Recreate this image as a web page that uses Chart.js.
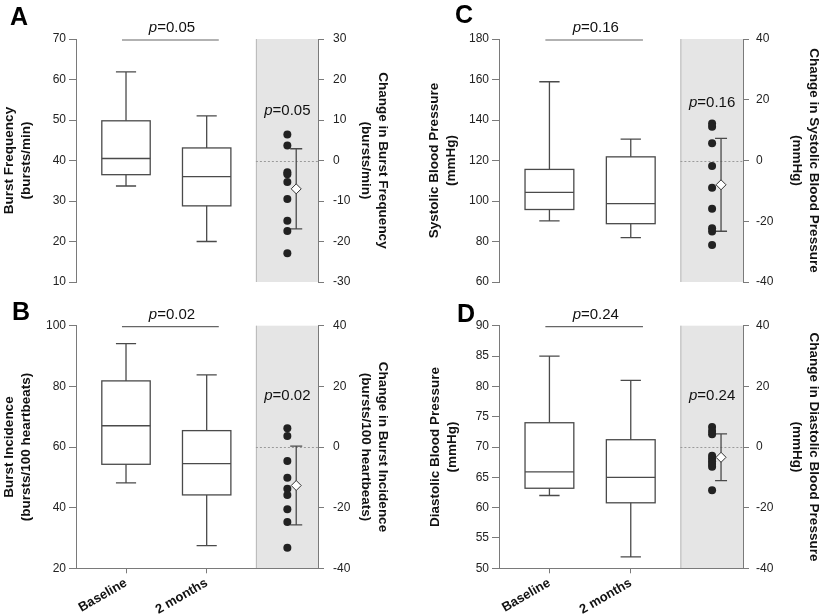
<!DOCTYPE html>
<html lang="en">
<head>
<meta charset="UTF-8">
<title>Baseline vs 2 months</title>
<script src="https://cdn.jsdelivr.net/npm/chart.js"></script>
<style>
  body { margin: 0; background: #fff; }
  #wrap { position: relative; width: 825px; height: 615px; }
  canvas { position: absolute; }
</style>
</head>
<body>
<div id="wrap">
  <canvas id="panelA" width="410" height="300" style="left:0;top:0"></canvas>
  <canvas id="panelB" width="410" height="315" style="left:0;top:300px"></canvas>
  <canvas id="panelC" width="415" height="300" style="left:410px;top:0"></canvas>
  <canvas id="panelD" width="415" height="315" style="left:410px;top:300px"></canvas>
</div>
<script>
const groups = ['Baseline', '2 months'];

// box stats per group: [min, q1, median, q3, max]
const freqBox = [[33.7, 36.5, 40.5, 49.8, 61.9], [20.0, 28.8, 36.0, 43.1, 51.0]];
const freqChange = [6.4, 3.7, -2.9, -3.4, -5.3, -9.5, -14.9, -17.4, -22.9];
const freqMeanSd = [-7.0, 9.9];

const incidBox = [[48.2, 54.3, 67.0, 81.8, 94.1], [27.5, 44.2, 54.5, 65.4, 83.8]];
const incidChange = [6.2, 3.6, -4.6, -10.1, -13.8, -15.8, -20.5, -24.7, -33.2];
const incidMeanSd = [-12.7, 13.0];

const sbpBox = [[90.2, 95.8, 104.3, 115.6, 158.9], [81.9, 88.8, 98.7, 121.8, 130.6]];
const sbpChange = [12.2, 11.1, 5.7, -1.8, -9.0, -15.9, -22.3, -23.4, -27.8];
const sbpMeanSd = [-8.0, 15.3];

const dbpBox = [[62.0, 63.2, 65.9, 74.0, 85.0], [51.9, 60.8, 65.0, 71.2, 81.0]];
const dbpChange = [6.6, 5.3, 4.2, -2.9, -3.8, -4.7, -5.6, -6.5, -14.3];
const dbpMeanSd = [-3.4, 7.7];

const pValues = ['0.05', '0.02', '0.16', '0.24'];

// where things sit on the hidden 0..3 x scale
const X_GROUP = [0.62, 1.62];
const X_DOTS = 2.62, X_MEAN = 2.73, SHADE_FROM = 2.23;
const BOX_HALF = 0.3, CAP_HALF = 0.125;

const FONT = '"Liberation Sans", Arial, sans-serif';

function drawP(ctx, text, cx, baseY) {
    ctx.font = 'italic 15px ' + FONT;
    const w1 = ctx.measureText('p').width;
    ctx.font = '15px ' + FONT;
    const rest = '=' + text;
    const w2 = ctx.measureText(rest).width;
    const x0 = cx - (w1 + w2) / 2;
    ctx.fillStyle = '#111';
    ctx.textAlign = 'left';
    ctx.textBaseline = 'alphabetic';
    ctx.font = 'italic 15px ' + FONT;
    ctx.fillText('p', x0, baseY);
    ctx.font = '15px ' + FONT;
    ctx.fillText(rest, x0 + w1, baseY);
}

const panelPlugin = {
    id: 'panel',
    beforeDraw(chart, args, o) {
        const { ctx, chartArea: a, scales: { x, y1 } } = chart;
        const sx = x.getPixelForValue(SHADE_FROM);
        ctx.save();
        ctx.fillStyle = '#e5e5e5';
        ctx.fillRect(sx, a.top, a.right - sx, a.bottom - a.top);
        ctx.strokeStyle = '#b8b8b8';
        ctx.lineWidth = 1;
        ctx.beginPath();
        ctx.moveTo(sx + 0.5, a.top);
        ctx.lineTo(sx + 0.5, a.bottom);
        ctx.stroke();
        // dotted zero line of the change axis
        const y0 = Math.round(y1.getPixelForValue(0)) + 0.5;
        ctx.strokeStyle = '#9a9a9a';
        ctx.setLineDash([2, 2]);
        ctx.beginPath();
        ctx.moveTo(sx, y0);
        ctx.lineTo(a.right, y0);
        ctx.stroke();
        ctx.restore();
    },
    beforeDatasetsDraw(chart, args, o) {
        const { ctx, scales: { x, y, y1 } } = chart;
        ctx.save();
        ctx.strokeStyle = '#4a4a4a';
        ctx.lineWidth = 1.3;
        o.box.forEach((b, i) => {
            const [mn, q1, md, q3, mx] = b.map(v => y.getPixelForValue(v));
            const cx = x.getPixelForValue(X_GROUP[i]);
            const hw = x.getPixelForValue(X_GROUP[i] + BOX_HALF) - cx;
            const cw = x.getPixelForValue(X_GROUP[i] + CAP_HALF) - cx;
            ctx.fillStyle = '#fff';
            ctx.fillRect(cx - hw, q3, 2 * hw, q1 - q3);
            ctx.strokeRect(cx - hw, q3, 2 * hw, q1 - q3);
            ctx.beginPath();
            ctx.moveTo(cx - hw, md); ctx.lineTo(cx + hw, md);
            ctx.moveTo(cx, q3); ctx.lineTo(cx, mx);
            ctx.moveTo(cx - cw, mx); ctx.lineTo(cx + cw, mx);
            ctx.moveTo(cx, q1); ctx.lineTo(cx, mn);
            ctx.moveTo(cx - cw, mn); ctx.lineTo(cx + cw, mn);
            ctx.stroke();
        });
        // mean +/- SD of the change
        const [m, sd] = o.meanSd;
        const mx = x.getPixelForValue(X_MEAN);
        const hi = y1.getPixelForValue(m + sd), lo = y1.getPixelForValue(m - sd);
        ctx.beginPath();
        ctx.moveTo(mx, hi); ctx.lineTo(mx, lo);
        ctx.moveTo(mx - 6, hi); ctx.lineTo(mx + 6, hi);
        ctx.moveTo(mx - 6, lo); ctx.lineTo(mx + 6, lo);
        ctx.stroke();
        ctx.restore();
    },
    afterDraw(chart, args, o) {
        const { ctx, chartArea: a, scales: { x, y1 } } = chart;
        ctx.save();
        // bracket and p value between the two groups
        ctx.strokeStyle = '#666';
        ctx.lineWidth = 1.2;
        ctx.beginPath();
        ctx.moveTo(x.getPixelForValue(0.57), a.top + 1);
        ctx.lineTo(x.getPixelForValue(1.77), a.top + 1);
        ctx.stroke();
        drawP(ctx, o.p, x.getPixelForValue(1.19), a.top - 7);
        drawP(ctx, o.p, x.getPixelForValue(X_DOTS), y1.getPixelForValue(o.pAt) + 5);
        // panel letter
        ctx.fillStyle = '#000';
        ctx.font = 'bold 25px ' + FONT;
        ctx.textAlign = 'left';
        ctx.textBaseline = 'alphabetic';
        ctx.fillText(o.letter, o.letterPos[0], o.letterPos[1]);
        ctx.restore();
    }
};

function makePanel(id, p) {
    const axisGray = '#7a7a7a';
    const titleFont = { family: FONT, size: 13.5, weight: 'bold', lineHeight: '17px' };
    return new Chart(document.getElementById(id), {
        type: 'scatter',
        data: {
            datasets: [
                {
                    data: p.change.map(v => ({ x: X_DOTS, y: v })),
                    yAxisID: 'y1',
                    pointRadius: 4,
                    pointBackgroundColor: '#222',
                    pointBorderColor: '#222',
                    pointBorderWidth: 0
                },
                {
                    data: [{ x: X_MEAN, y: p.meanSd[0] }],
                    yAxisID: 'y1',
                    pointStyle: 'rectRot',
                    pointRadius: 5,
                    pointBackgroundColor: '#fff',
                    pointBorderColor: '#333',
                    pointBorderWidth: 1
                }
            ]
        },
        options: {
            responsive: false,
            animation: false,
            devicePixelRatio: 1,
            layout: { padding: { top: p.padTop, bottom: p.padBottom, left: 0, right: 0 } },
            plugins: {
                legend: { display: false },
                tooltip: { enabled: false },
                panel: { box: p.box, meanSd: p.meanSd, p: p.p, pAt: p.pAt, letter: p.letter, letterPos: p.letterPos }
            },
            scales: {
                x: {
                    type: 'linear',
                    min: 0,
                    max: 3,
                    display: p.showX,
                    afterBuildTicks: s => { s.ticks = X_GROUP.map(v => ({ value: v })); },
                    afterFit: s => { s.height = p.showX ? 46.7 : 0; },
                    ticks: {
                        autoSkip: false,
                        minRotation: 30,
                        maxRotation: 30,
                        padding: 2,
                        color: '#111',
                        font: { family: FONT, size: 13, weight: 'bold' },
                        callback: (v, i) => groups[i]
                    },
                    grid: { drawOnChartArea: false, tickLength: 5, color: axisGray },
                    border: { color: axisGray, width: 1 }
                },
                y: {
                    position: 'left',
                    min: p.yMin,
                    max: p.yMax,
                    afterFit: s => { s.width = p.leftW; },
                    ticks: { stepSize: p.yStep, padding: 3, color: '#222', font: { family: FONT, size: 12 } },
                    grid: { drawOnChartArea: false, tickLength: 7, color: axisGray },
                    border: { color: axisGray, width: 1 },
                    title: {
                        display: true,
                        text: p.leftTitle,
                        color: '#111',
                        padding: { top: p.leftTitlePad, bottom: 0 },
                        font: titleFont
                    }
                },
                y1: {
                    position: 'right',
                    min: p.cMin,
                    max: p.cMax,
                    afterFit: s => { s.width = p.rightW; },
                    ticks: { stepSize: p.cStep, padding: p.rightTickPad, color: '#222', font: { family: FONT, size: 12 } },
                    grid: { drawOnChartArea: false, tickLength: 6, color: axisGray },
                    border: { color: axisGray, width: 1 },
                    title: {
                        display: true,
                        text: p.rightTitle,
                        color: '#111',
                        padding: { top: p.rightTitlePad, bottom: 0 },
                        font: titleFont
                    }
                }
            }
        },
        plugins: [panelPlugin]
    });
}

makePanel('panelA', {
    box: freqBox, change: freqChange, meanSd: freqMeanSd, p: pValues[0], pAt: 12.5,
    letter: 'A', letterPos: [10, 25],
    yMin: 10, yMax: 70, yStep: 10, cMin: -30, cMax: 30, cStep: 10,
    leftTitle: ['Burst Frequency', '(bursts/min)'],
    rightTitle: ['Change in Burst Frequency', '(bursts/min)'],
    showX: false, padTop: 39, padBottom: 18,
    leftW: 76, rightW: 92, leftTitlePad: 0.5, rightTitlePad: 18.5, rightTickPad: 9
});

makePanel('panelB', {
    box: incidBox, change: incidChange, meanSd: incidMeanSd, p: pValues[1], pAt: 17,
    letter: 'B', letterPos: [12, 20],
    yMin: 20, yMax: 100, yStep: 20, cMin: -40, cMax: 40, cStep: 20,
    leftTitle: ['Burst Incidence', '(bursts/100 heartbeats)'],
    rightTitle: ['Change in Burst Incidence', '(bursts/100 heartbeats)'],
    showX: true, padTop: 25.7, padBottom: 0,
    leftW: 76, rightW: 92, leftTitlePad: 0.5, rightTitlePad: 18.5, rightTickPad: 9
});

makePanel('panelC', {
    box: sbpBox, change: sbpChange, meanSd: sbpMeanSd, p: pValues[2], pAt: 19.4,
    letter: 'C', letterPos: [45, 23],
    yMin: 60, yMax: 180, yStep: 20, cMin: -40, cMax: 40, cStep: 20,
    leftTitle: ['Systolic Blood Pressure', '(mmHg)'],
    rightTitle: ['Change in Systolic Blood Pressure', '(mmHg)'],
    showX: false, padTop: 39, padBottom: 18,
    leftW: 89, rightW: 82, leftTitlePad: 15.5, rightTitlePad: 2.5, rightTickPad: 7
});

makePanel('panelD', {
    box: dbpBox, change: dbpChange, meanSd: dbpMeanSd, p: pValues[3], pAt: 17,
    letter: 'D', letterPos: [47, 22],
    yMin: 50, yMax: 90, yStep: 5, cMin: -40, cMax: 40, cStep: 20,
    leftTitle: ['Diastolic Blood Pressure', '(mmHg)'],
    rightTitle: ['Change in Diastolic Blood Pressure', '(mmHg)'],
    showX: true, padTop: 25.7, padBottom: 0,
    leftW: 89, rightW: 82, leftTitlePad: 16.5, rightTitlePad: 2.5, rightTickPad: 7
});
</script>
</body>
</html>
